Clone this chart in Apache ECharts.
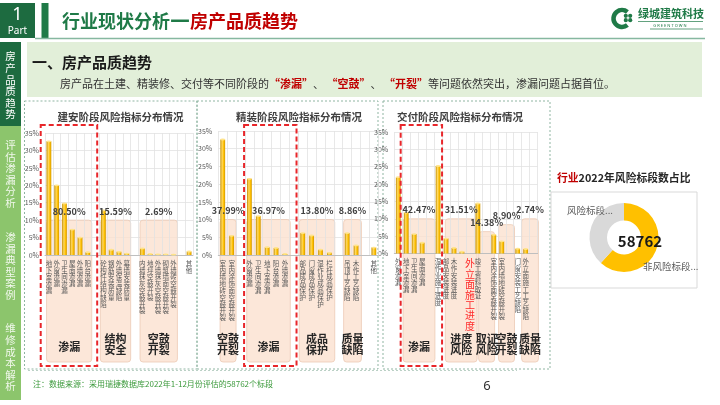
<!DOCTYPE html>
<html><head><meta charset="utf-8">
<script src="https://cdn.jsdelivr.net/npm/echarts@6/dist/echarts.min.js"></script>
<style>html,body{margin:0;padding:0;background:#fff}#c{width:720px;height:405px}</style>
</head><body><div id="c"></div>
<script>
const FONT = '"Noto Sans CJK SC","Noto Sans",sans-serif';

// ---------------- data ----------------
const pageTitleGreen = '行业现状分析';
const pageTitleDash = '—';
const pageTitleRed = '房产品质趋势';
const sectionTitle = '一、房产品质趋势';
const navItems = ['房产品质趋势', '评估渗漏分析', '渗漏典型案例', '维修成本解析'];
const footNote = '注：数据来源：采用瑞捷数据库2022年1-12月份评估的58762个标段';
const pageNo = '6';

const yMax = 35, yStep = 5;

const chart1Title = '建安阶段风险指标分布情况';
const chart1Cats = ['地下室渗漏','外窗渗漏','卫生间渗漏','屋面渗漏','外墙渗漏','阳台渗漏','',
  '砼构件结构缺陷','钢筋安装质量','外墙保温缺陷','幕墙安装质量','',
  '内墙抹灰空鼓开裂','地坪空鼓开裂','外墙抹灰空鼓开裂','砌筑墙面空鼓开裂','外墙砖空鼓开裂','','其他'];
const chart1Vals = [32.6,20.0,14.8,7.3,5.0,0.8,null, 12.8,1.5,0.9,0.4,null, 1.9,0.3,0.2,0.2,0.1,null,1.0];
const chart1Groups = [
  {name:'渗漏', pct:'80.50%'},
  {name:'结构\n安全', pct:'15.59%'},
  {name:'空鼓\n开裂', pct:'2.69%'}];

const chart2Title = '精装阶段风险指标分布情况';
const chart2Cats = ['室内墙地砖空鼓开裂','室内涂饰面空鼓开裂','',
  '外窗渗漏','卫生间渗漏','地下室渗漏','阳台渗漏','外墙渗漏','',
  '部品成品保护','门窗成品保护','湿作业成品保护','栏杆成品保护','',
  '吊顶工艺缺陷','木作工艺缺陷','','其他'];
const chart2Vals = [32.6,5.4,null, 21.5,11.0,2.2,2.0,0.3,null, 6.2,5.5,1.5,0.6,null, 6.2,2.7,null,2.1];
const chart2Groups = [
  {name:'空鼓\n开裂', pct:'37.99%'},
  {name:'渗漏', pct:'36.97%'},
  {name:'成品\n保护', pct:'13.80%'},
  {name:'质量\n缺陷', pct:'8.86%'}];

const chart3Title = '交付阶段风险指标分布情况';
const chart3Cats = ['外窗渗漏','地下室渗漏','卫生间渗漏','屋面渗漏','',
  '湿作业施工进度','部品安装进度','木作安装进度','外立面施工进度','',
  '竣工资料取证','',
  '室内涂饰面空鼓开裂','室内墙地砖空鼓开裂','',
  '门窗安装工艺缺陷','外立面施工工艺缺陷',''];
const chart3Vals = [22.0,11.8,5.6,3.1,null, 25.2,4.3,1.6,0.5,null, 14.4,null, 5.4,3.5,null, 1.4,1.3,null];
const chart3Groups = [
  {name:'渗漏', pct:'42.47%'},
  {name:'进度\n风险', pct:'31.51%'},
  {name:'取证\n风险', pct:'14.38%'},
  {name:'空鼓\n开裂', pct:'8.90%'},
  {name:'质量\n缺陷', pct:'2.74%'}];
const chart3HighlightCat = '外立面施工进度';

const donutTitleRed = '行业';
const donutTitleRest = '2022年风险标段数占比';
const donutNames = ['非风险标段', '风险标段'];
const donutShares = [61.7, 38.3];
const donutTotal = '58762';

// ---------------- layout ----------------
const GRIDS = [
  {left:45, top:133, width:148, height:122},
  {left:218.3, top:131, width:160, height:124},
  {left:394.3, top:132, width:143.3, height:121.5}];
// pink group boxes: [fromEdge, toEdge] in category units, top in axis value
const BOXES = [
  [[0.2,6.0,10],[7.1,11.0,10],[12.2,17.0,10]],
  [[0.2,2.0,10],[3.2,8.1,10],[9.1,13.1,10],[14.1,16.1,10]],
  [[1.1,5.1,10],[6.4,10.4,10],[10.6,12.6,6.3],[13.1,15.1,8.3],[16.0,18.1,10]]];
const RED_BOX = [[-0.55,6.7],[2.9,8.8],[0.8,6.0]];
const BOX_BOTTOM = 362, RED_TOP = 125, RED_BOTTOM = 366;
const DONUT_LABEL_POS = [[643, 266], [567, 210]];

const cats = [chart1Cats, chart2Cats, chart3Cats];
const vals = [chart1Vals, chart2Vals, chart3Vals];
const groups = [chart1Groups, chart2Groups, chart3Groups];

const gold = {type:'linear', x:0, y:0, x2:1, y2:0, colorStops:[
  {offset:0, color:'#c48f00'}, {offset:0.38, color:'#ffd860'},
  {offset:0.7, color:'#ffc000'}, {offset:1, color:'#cf9600'}]};

const chart = echarts.init(document.getElementById('c'));

const grids = [], xAxes = [], yAxes = [], series = [];
for (let k = 0; k < 3; k++) {
  grids.push(Object.assign({containLabel:false, outerBoundsMode:'none'}, GRIDS[k]));
  xAxes.push({
    gridIndex:k, type:'category', data:cats[k], boundaryGap:true, z:3,
    axisTick:{show:false},
    axisLine:{lineStyle:{color:'#bfbfbf', width:1}},
    splitLine:{show:true, interval:0, lineStyle:{color:'#e2e2e2', width:0.8}},
    axisLabel:{interval:0, fontSize:6.5, lineHeight:6.8, color:'#595959', margin:5, fontFamily:FONT,
      formatter:(v) => {
        const s = v.split('').join('\n');
        return (k === 2 && v === chart3HighlightCat) ? '{r|' + s + '}' : s;
      },
      rich:{r:{color:'#ff2a2a', fontSize:10, lineHeight:10.4, fontFamily:FONT, padding:[0,0,0,16]}}}
  });
  yAxes.push({
    gridIndex:k, type:'value', min:0, max:yMax, interval:yStep,
    axisLine:{show:false}, axisTick:{show:false},
    splitLine:{lineStyle:{color:'#e2e2e2', width:0.8}},
    axisLabel:{formatter:'{value}%', fontSize:7, color:'#595959', margin:6, fontFamily:FONT}
  });
  series.push({type:'bar', xAxisIndex:k, yAxisIndex:k, data:vals[k], barWidth:4.8,
    itemStyle:{color:gold}, z:4, silent:true});
  series.push({type:'pictorialBar', xAxisIndex:k, yAxisIndex:k, data:vals[k],
    symbol:'circle', symbolSize:[4.8,1.8], symbolPosition:'end', symbolOffset:[0,'-50%'],
    itemStyle:{color:'#ffe48a'}, z:5, silent:true});
}

series.push({
  type:'pie', center:[624,237.5], radius:[17,34.5], startAngle:90, clockwise:true, silent:true,
  data: donutNames.map((n,i)=>({name:n, value:donutShares[i], itemStyle:{color: i===0 ? '#ffc000' : '#d9d9d9'}})),
  label:{show:false}, labelLine:{show:false}
});

chart.setOption({animation:false, grid:grids, xAxis:xAxes, yAxis:yAxes, series:series});

// ---------------- decorations ----------------
const G = [];
const txt = (x, y, text, o) => G.push({type:'text', x, y, z:(o && o.z) || 20, silent:true,
  style:Object.assign({text, fontFamily:FONT, fontSize:10, fill:'#333', align:'left', verticalAlign:'middle'}, o || {})});
const rect = (x, y, w, h, style, z) => G.push({type:'rect', z: z == null ? 0 : z, silent:true, shape:{x, y, width:w, height:h}, style});
const line = (x1, y1, x2, y2, style, z) => G.push({type:'line', z: z == null ? 0 : z, silent:true, shape:{x1,y1,x2,y2}, style});

// header
rect(0, 3, 35, 35, {fill:'#1d6b40'});
txt(17.5, 15, '1', {fill:'#fff', fontSize:18, align:'center', fontFamily:'"Noto Sans",sans-serif'});
txt(17.5, 31, 'Part', {fill:'#fff', fontSize:10, align:'center', fontFamily:'"Noto Sans",sans-serif'});
rect(41.5, 3, 7, 35, {fill:'#1f7a47'});
line(35, 38.5, 705, 38.5, {stroke:'#86b8a0', lineWidth:1.5});
txt(62, 21, '{g|' + pageTitleGreen + '}{d|' + pageTitleDash + '}{r|' + pageTitleRed + '}', {rich:{
  g:{fill:'#1f7a47', fontSize:18, fontWeight:'bold', fontFamily:FONT},
  d:{fill:'#1f7a47', fontSize:20, fontWeight:'bold', fontFamily:'"DejaVu Sans",sans-serif'},
  r:{fill:'#c00000', fontSize:18, fontWeight:'bold', fontFamily:FONT}}});
// logo
G.push({type:'arc', z:5, silent:true, shape:{cx:622, cy:18.5, r:8.5, startAngle:Math.PI*0.28, endAngle:Math.PI*1.72, clockwise:true},
  style:{stroke:'#1f7a47', lineWidth:4.5, fill:null}});
[[-2.2,-2.2],[2.2,-2.2],[-2.2,2.2],[2.2,2.2]].forEach(d => G.push({type:'circle', z:5, silent:true,
  shape:{cx:628+d[0], cy:18+d[1], r:2.1}, style:{fill:'#1f7a47'}}));
txt(638, 14, '绿城建筑科技', {fill:'#1f7a47', fontSize:11, fontWeight:'bold'});
line(638, 21.5, 703, 21.5, {stroke:'#1f7a47', lineWidth:0.7});
txt(670, 25.5, 'G R E E N T O W N', {fill:'#1f7a47', fontSize:4, align:'center', fontFamily:'"Noto Sans",sans-serif'});
line(650, 29, 703, 29, {stroke:'#1f7a47', lineWidth:0.7});

// sidebar
rect(0, 42, 21, 84, {fill:'#1d6b40'});
rect(0, 126, 21, 274, {fill:'#8cc56c'});
const navY = [85.5, 174, 266, 357.5];
navItems.forEach((t, i) => txt(10.5, navY[i], t.split('').join('\n'),
  {fill: i === 0 ? '#ffffff' : '#f1f8ec', fontSize:10.5, lineHeight:11.6, align:'center'}));

// banner
rect(27, 42, 675, 55, {fill:'#e2efd9'});
txt(32, 62, sectionTitle, {fontSize:15, fontWeight:'bold', fill:'#1a1a1a'});
txt(60, 84, '{n|房产品在土建、精装修、交付等不同阶段的}{r|“渗漏”}{n|、 }{r|“空鼓”}{n|、 }{r|“开裂”}{n|等问题依然突出，渗漏问题占据首位。}',
  {rich:{n:{fill:'#333', fontSize:11, fontFamily:FONT}, r:{fill:'#c00000', fontSize:11, fontWeight:'bold', fontFamily:FONT}}});

// chart frames
const dotted = {fill:null, stroke:'#8fb5a2', lineWidth:1, lineDash:[2,2]};
rect(24.5, 101, 172.5, 268, dotted);
rect(197, 101, 181, 268, dotted);
rect(383, 101, 167, 268, dotted);
// titles
txt(120.5, 117, chart1Title, {fontSize:10.5, fontWeight:'bold', fill:'#404040', align:'center'});
txt(299, 117, chart2Title, {fontSize:10.5, fontWeight:'bold', fill:'#404040', align:'center'});
txt(460, 117, chart3Title, {fontSize:10.5, fontWeight:'bold', fill:'#404040', align:'center'});

// group boxes, labels, red boxes (from axis scales)
for (let k = 0; k < 3; k++) {
  const c0 = chart.convertToPixel({xAxisIndex:k}, 0);
  const c1 = chart.convertToPixel({xAxisIndex:k}, 1);
  const bw = c1 - c0;
  const e = u => c0 - bw / 2 + u * bw;
  const yv = v => chart.convertToPixel({yAxisIndex:k}, v);
  BOXES[k].forEach((b, i) => {
    const x0 = e(b[0]), x1 = e(b[1]), yt = yv(b[2]);
    G.push({type:'rect', z:1, silent:true, shape:{x:x0, y:yt, width:x1 - x0, height:BOX_BOTTOM - yt, r:3},
      style:{fill:'rgba(251,224,206,0.78)', stroke:'#eccab5', lineWidth:0.8}});
    txt((x0 + x1) / 2, yt - 9, groups[k][i].pct, {fontSize:9, fontWeight:'bold', fill:'#404040', align:'center'});
    const two = groups[k][i].name.indexOf('\n') >= 0;
    txt((x0 + x1) / 2, two ? 344.5 : 347, groups[k][i].name, {fontSize:11, fontWeight:'bold', fill:'#262626', align:'center', lineHeight:11});
  });
  const rx0 = e(RED_BOX[k][0]), rx1 = e(RED_BOX[k][1]);
  G.push({type:'rect', z:30, silent:true, shape:{x:rx0, y:RED_TOP, width:rx1 - rx0, height:RED_BOTTOM - RED_TOP},
    style:{fill:null, stroke:'#e8262a', lineWidth:2, lineDash:[5,3]}});
}

// donut
G.push({type:'text', z:20, silent:true, x:557, y:178, style:{
  text:'{r|' + donutTitleRed + '}{k|' + donutTitleRest + '}', verticalAlign:'middle',
  rich:{r:{fill:'#c00000', fontSize:10.8, fontWeight:'bold', fontFamily:FONT},
        k:{fill:'#262626', fontSize:10.8, fontWeight:'bold', fontFamily:FONT}}}});
rect(551, 192, 146, 96, {fill:null, stroke:'#d9d9d9', lineWidth:1});
txt(640, 241, donutTotal, {fontSize:15, fontWeight:'bold', fill:'#1a1a1a', align:'center'});
donutNames.forEach((n, i) => txt(DONUT_LABEL_POS[i][0], DONUT_LABEL_POS[i][1], n + '...', {fontSize:9.5, fill:'#595959'}));

// footer
line(28, 370.5, 517, 370.5, {stroke:'#a9c5b8', lineWidth:0.8, lineDash:[2,2]});
txt(33, 384, footNote, {fontSize:8, fill:'#3c9a3c'});
txt(487, 386, pageNo, {fontSize:13, fill:'#333', align:'center', fontFamily:'"Noto Sans",sans-serif'});

chart.setOption({graphic:G});
</script>
</body></html>
